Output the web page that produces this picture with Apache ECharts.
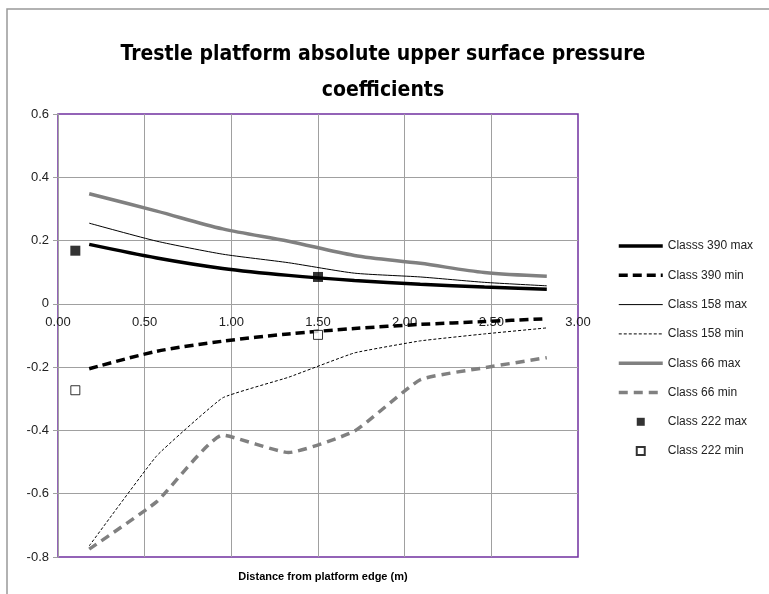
<!DOCTYPE html>
<html>
<head>
<meta charset="utf-8">
<script src="https://cdn.jsdelivr.net/npm/echarts@6/dist/echarts.min.js"></script>
<style>
  html, body { margin: 0; padding: 0; background: #fff; }
  #chart { width: 769px; height: 594px; }
</style>
</head>
<body>
<div id="chart"></div>
<script>
// distances along the platform (m)
const distances = [0.18, 0.57, 0.95, 1.33, 1.71, 2.09, 2.46, 2.82]

const class390Max = [0.188, 0.145, 0.112, 0.090, 0.074, 0.062, 0.053, 0.046]
const class390Min = [-0.205, -0.150, -0.118, -0.095, -0.078, -0.065, -0.056, -0.047]
const class158Max = [0.255, 0.198, 0.157, 0.130, 0.097, 0.085, 0.068, 0.057]
const class158Min = [-0.765, -0.480, -0.297, -0.232, -0.155, -0.117, -0.095, -0.076]
const class66Max = [0.348, 0.293, 0.237, 0.198, 0.153, 0.128, 0.099, 0.087]
const class66Min = [-0.775, -0.625, -0.415, -0.470, -0.402, -0.240, -0.202, -0.170]

// class 222 only measured at two spots
const class222X = [0.10, 1.50]
const class222Max = [0.168, 0.085]
const class222Min = [-0.273, -0.098]

const seriesNames = ['Classs 390 max', 'Class 390 min', 'Class 158 max', 'Class 158 min',
  'Class 66 max', 'Class 66 min', 'Class 222 max', 'Class 222 min']

function pairs (xs, ys) {
  return xs.map((x, i) => [x, ys[i]])
}

const chart = echarts.init(document.getElementById('chart'))
const font = "'Liberation Sans', Arial, sans-serif"

// line look per series: [colour, width, dash, smooth]
const looks = [
  ['#000', 3.5, 'solid', 0.3],
  ['#000', 3.5, [9, 5], 0.3],
  ['#000', 1, 'solid', 0.2],
  ['#000', 1, [3, 2], 0.1],
  ['#808080', 3.5, 'solid', 0.3],
  ['#808080', 3.5, [9, 6], 0.15]
]
const lineData = [class390Max, class390Min, class158Max, class158Min, class66Max, class66Min]

function lineSeries (i) {
  const [color, width, type, smooth] = looks[i]
  return {
    type: 'line',
    name: seriesNames[i],
    data: pairs(distances, lineData[i]),
    symbol: 'none',
    smooth: smooth,
    lineStyle: { color: color, width: width, type: type },
    itemStyle: { color: color },
    silent: true
  }
}

const hiddenDot = { color: 'rgba(0,0,0,0)', borderColor: 'rgba(0,0,0,0)', borderWidth: 0, opacity: 0 }

const legendData = seriesNames.map((n, i) => {
  if (i >= 6) return { name: n, icon: 'path://M0,0H10V10H0Z' }
  const [color, width, type] = looks[i]
  return { name: n, itemStyle: hiddenDot, lineStyle: { color: color, width: width, type: type } }
})

const option = {
  backgroundColor: '#fff',
  animation: false,
  title: [
    {
      text: 'Trestle platform absolute upper surface pressure\ncoefficients',
      left: 378,
      top: 32,
      textAlign: 'center',
      textStyle: {
        fontFamily: "'Liberation Sans Narrow', 'DejaVu Sans Condensed', sans-serif",
        fontSize: 21,
        fontWeight: 'bold',
        color: '#000',
        lineHeight: 36
      }
    },
    {
      text: 'Distance from platform edge (m)',
      left: 318,
      top: 566,
      textAlign: 'center',
      textStyle: { fontFamily: font, fontSize: 11, fontWeight: 'bold', color: '#000' }
    }
  ],
  graphic: [
    {
      type: 'rect',
      shape: { x: 7, y: 9, width: 900, height: 900 },
      style: { fill: 'none', stroke: '#999', lineWidth: 1.5 },
      silent: true
    }
  ],
  grid: {
    left: 58,
    right: 191,
    top: 114,
    bottom: 37,
    show: true,
    borderColor: '#7030A0',
    borderWidth: 1.5
  },
  legend: {
    orient: 'vertical',
    left: 612,
    top: 235,
    itemWidth: 44,
    itemHeight: 8,
    itemGap: 17.3,
    textStyle: { fontFamily: font, fontSize: 12, color: '#222' },
    data: legendData
  },
  xAxis: {
    type: 'value',
    min: 0,
    max: 3,
    interval: 0.5,
    // labels sit along the zero line
    offset: -253.1,
    axisLine: { show: false, onZero: false },
    axisTick: { show: false },
    axisLabel: {
      formatter: v => v.toFixed(2),
      fontFamily: font,
      fontSize: 13,
      color: '#222',
      margin: 12
    },
    splitLine: {
      show: true,
      showMinLine: false,
      showMaxLine: false,
      lineStyle: { color: '#a0a0a0', width: 1 }
    }
  },
  yAxis: {
    type: 'value',
    min: -0.8,
    max: 0.6,
    interval: 0.2,
    axisLine: { show: true, onZero: false, lineStyle: { color: '#a0a0a0', width: 1 } },
    axisTick: { show: true, length: 5, lineStyle: { color: '#a0a0a0' } },
    axisLabel: {
      formatter: v => Math.abs(v) < 1e-9 ? '0' : v.toFixed(1),
      fontFamily: font,
      fontSize: 13,
      color: '#222',
      margin: 9
    },
    splitLine: {
      show: true,
      showMinLine: false,
      showMaxLine: false,
      lineStyle: { color: '#a0a0a0', width: 1 }
    }
  },
  series: [
    lineSeries(0),
    lineSeries(1),
    lineSeries(2),
    lineSeries(3),
    lineSeries(4),
    lineSeries(5),
    {
      type: 'scatter',
      name: seriesNames[6],
      data: pairs(class222X, class222Max),
      symbol: 'rect',
      symbolSize: 10,
      itemStyle: { color: '#000' },
      z: 5
    },
    {
      type: 'scatter',
      name: seriesNames[7],
      data: pairs(class222X, class222Min),
      symbol: 'rect',
      symbolSize: 9,
      itemStyle: { color: '#fff', borderColor: '#000', borderWidth: 1 },
      z: 5
    }
  ]
}

chart.setOption(option)
</script>
</body>
</html>
